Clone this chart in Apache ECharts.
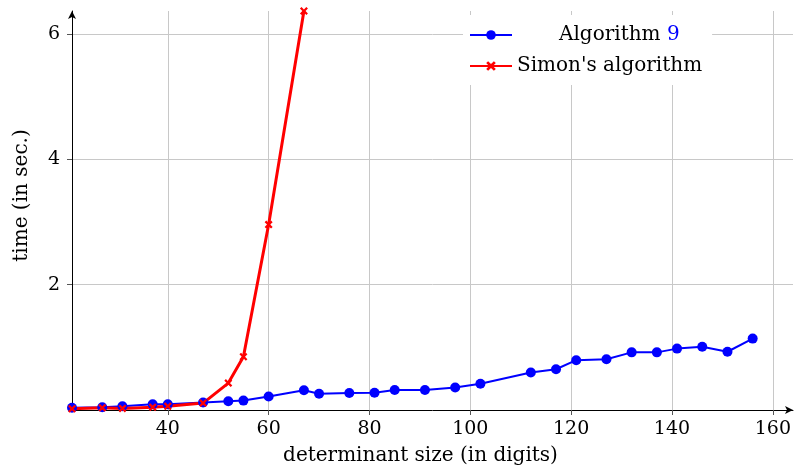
<!DOCTYPE html>
<html>
<head>
<meta charset="utf-8">
<script src="https://cdn.jsdelivr.net/npm/echarts@6/dist/echarts.min.js"></script>
<style>
  html, body { margin: 0; padding: 0; background: #fff; }
  #chart { width: 794px; height: 471px; }
</style>
</head>
<body>
<div id="chart"></div>
<script>
// determinant sizes (digits) and times (sec.)
var algoSizes = [21, 27, 31, 37, 40, 47, 52, 55, 60, 67, 70, 76, 81, 85, 91, 97, 102, 112, 117, 121, 127, 132, 137, 141, 146, 151, 156];
var algoTimes = [0.035, 0.045, 0.06, 0.09, 0.09, 0.12, 0.14, 0.15, 0.215, 0.315, 0.26, 0.27, 0.275, 0.32, 0.32, 0.36, 0.42, 0.60, 0.65, 0.795, 0.81, 0.92, 0.92, 0.98, 1.01, 0.93, 1.14];
var simonSizes = [21, 27, 31, 37, 40, 47, 52, 55, 60, 67];
var simonTimes = [0.02, 0.035, 0.025, 0.045, 0.06, 0.11, 0.43, 0.85, 2.96, 6.37];
var xTicks = [40, 60, 80, 100, 120, 140, 160];
var yTicks = [2, 4, 6];

function pairs(xs, ys) {
    return xs.map(function (x, i) { return [x, ys[i]]; });
}

var font = 'DejaVu Serif';
var crossPath = 'path://M0,2 L2,0 L5,3 L8,0 L10,2 L7,5 L10,8 L8,10 L5,7 L2,10 L0,8 L3,5 Z';

var chart = echarts.init(document.getElementById('chart'));
chart.setOption({
    animation: false,
    grid: { left: 72, right: 1, top: 11, bottom: 61 },
    legend: {
        left: 463,
        top: 15,
        orient: 'vertical',
        backgroundColor: '#fff',
        padding: [9, 10, 8, 6],
        itemWidth: 42,
        itemHeight: 12,
        itemGap: 9,
        textStyle: {
            fontFamily: font, fontSize: 20, color: '#000', lineHeight: 22,
            rich: {
                a: { fontFamily: font, fontSize: 20, color: '#000', padding: [0, 0, 0, 42] },
                b: { fontFamily: font, fontSize: 20, color: '#0000ff' }
            }
        },
        formatter: function (name) {
            if (name === 'Algorithm 9') return '{a|Algorithm }{b|9}';
            return name;
        },
        data: ['Algorithm 9', "Simon's algorithm"]
    },
    xAxis: {
        type: 'value',
        min: 21,
        max: 164,
        name: 'determinant size (in digits)',
        nameLocation: 'middle',
        nameGap: 36,
        nameTextStyle: { fontFamily: font, fontSize: 20, color: '#000', padding: [0, 24, 0, 0] },
        axisLine: { lineStyle: { color: '#000', width: 1 }, symbol: ['none', 'arrow'], symbolSize: [6, 8] },
        axisTick: { show: true, length: 5, lineStyle: { color: '#555' }, customValues: xTicks },
        axisLabel: { fontFamily: font, fontSize: 19, color: '#000', margin: 10, customValues: xTicks },
        splitLine: { show: true, lineStyle: { color: '#c8c8c8', width: 1 } }
    },
    yAxis: {
        type: 'value',
        min: 0,
        max: 6.37,
        name: 'time (in sec.)',
        nameLocation: 'middle',
        nameGap: 40,
        nameTextStyle: { fontFamily: font, fontSize: 20, color: '#000', padding: [0, 0, 0, 30] },
        axisLine: { show: true, lineStyle: { color: '#000', width: 1 }, symbol: ['none', 'arrow'], symbolSize: [6, 8] },
        axisTick: { show: true, length: 5, lineStyle: { color: '#555' }, customValues: yTicks },
        axisLabel: { fontFamily: font, fontSize: 19, color: '#000', margin: 12, customValues: yTicks },
        splitLine: { show: true, lineStyle: { color: '#c8c8c8', width: 1 } }
    },
    series: [{
        name: 'Algorithm 9',
        type: 'line',
        data: pairs(algoSizes, algoTimes),
        symbol: 'circle',
        symbolSize: 10,
        clip: false,
        itemStyle: { color: '#0000ff' },
        lineStyle: { color: '#0000ff', width: 2 }
    }, {
        name: "Simon's algorithm",
        type: 'line',
        data: pairs(simonSizes, simonTimes),
        symbol: crossPath,
        symbolSize: 8,
        clip: false,
        itemStyle: { color: '#ff0000' },
        lineStyle: { color: '#ff0000', width: 3 }
    }]
});
</script>
</body>
</html>
